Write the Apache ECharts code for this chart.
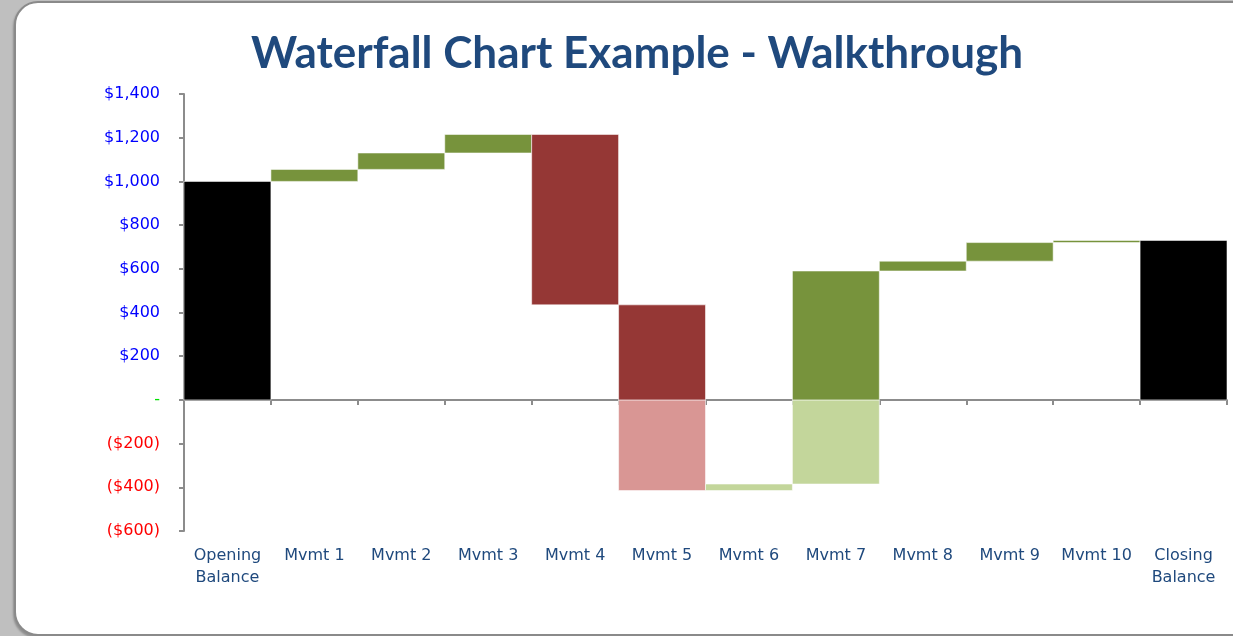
<!DOCTYPE html>
<html>
<head>
<meta charset="utf-8">
<script src="https://cdn.jsdelivr.net/npm/echarts@6/dist/echarts.min.js"></script>
<style>
  html, body { margin: 0; padding: 0; width: 1233px; height: 636px; overflow: hidden; background: #bfbfbf; }
  #panel { position: absolute; left: 14px; top: 1px; width: 1260px; height: 631px; background: #ffffff;
           border: 2px solid #8a8a8a; border-radius: 24px; box-shadow: -1px 2px 2px rgba(0,0,0,0.25); }
  #chart { position: absolute; left: 0; top: 0; width: 1233px; height: 636px; }
</style>
</head>
<body>
<div id="panel"></div>
<div id="chart"></div>
<script>
// ---- data ----
const categories = ['Opening\nBalance', 'Mvmt 1', 'Mvmt 2', 'Mvmt 3', 'Mvmt 4', 'Mvmt 5',
                    'Mvmt 6', 'Mvmt 7', 'Mvmt 8', 'Mvmt 9', 'Mvmt 10', 'Closing\nBalance'];
const openingBalance = 1000;
const movements = [55, 75, 85, -780, -850, 30, 975, 45, 85, 10];
const closingBalance = 730;
const yTicks = { min: -600, max: 1400, interval: 200 };

// ---- colours ----
const colours = {
  total: '#000000',
  upAbove: '#77933C',
  upBelow: '#C3D69B',
  downAbove: '#953735',
  downBelow: '#D99694'
};

// build bar pieces [categoryIndex, low, high, colourKey]
const pieces = [];
pieces.push([0, 0, openingBalance, 'total']);
let running = openingBalance;
movements.forEach(function (m, i) {
  const start = running, end = running + m;
  const low = Math.min(start, end), high = Math.max(start, end);
  const up = m >= 0;
  if (low < 0 && high > 0) {
    pieces.push([i + 1, low, 0, up ? 'upBelow' : 'downBelow']);
    pieces.push([i + 1, 0, high, up ? 'upAbove' : 'downAbove']);
  } else if (high <= 0) {
    pieces.push([i + 1, low, high, up ? 'upBelow' : 'downBelow']);
  } else {
    pieces.push([i + 1, low, high, up ? 'upAbove' : 'downAbove']);
  }
  running = end;
});
pieces.push([categories.length - 1, 0, closingBalance, 'total']);

function fmtY(v) {
  if (v === 0) return '{z|-}';
  const s = '$' + Math.abs(v).toLocaleString('en-US');
  return v > 0 ? '{p|' + s + '}' : '{n|(' + s + ')}';
}

const chart = echarts.init(document.getElementById('chart'));
chart.setOption({
  animation: false,
  backgroundColor: 'transparent',
  title: {
    text: 'Waterfall Chart Example - Walkthrough',
    left: 632,
    textAlign: 'center',
    top: 27,
    textStyle: { fontFamily: 'Lato', fontWeight: 'bold', fontSize: 44, color: '#1F497D' }
  },
  grid: { left: 184, right: 6, top: 94, bottom: 105, containLabel: false },
  xAxis: [
    {
      type: 'category',
      data: categories,
      position: 'bottom',
      axisLine: { show: false, onZero: false },
      axisTick: { show: false },
      axisLabel: {
        interval: 0, margin: 14, color: '#1F497D', fontFamily: 'DejaVu Sans', fontSize: 16, lineHeight: 22
      },
      splitLine: { show: false }
    },
    {
      type: 'category',
      data: categories,
      position: 'bottom',
      axisLine: { show: true, onZero: true, lineStyle: { color: '#8c8c8c', width: 2 } },
      axisTick: { show: true, length: 5, lineStyle: { color: '#8c8c8c', width: 2 } },
      axisLabel: { show: false },
      splitLine: { show: false }
    }
  ],
  yAxis: {
    type: 'value',
    min: yTicks.min, max: yTicks.max, interval: yTicks.interval,
    axisLine: { show: true, onZero: false, lineStyle: { color: '#8c8c8c', width: 2 } },
    axisTick: { show: true, length: 5, lineStyle: { color: '#8c8c8c', width: 2 } },
    splitLine: { show: false },
    axisLabel: {
      margin: 24,
      formatter: fmtY,
      rich: {
        p: { color: '#0000FF', fontFamily: 'DejaVu Sans', fontSize: 16 },
        n: { color: '#FF0000', fontFamily: 'DejaVu Sans', fontSize: 16 },
        z: { color: '#00E000', fontFamily: 'DejaVu Sans', fontSize: 16 }
      }
    }
  },
  series: [{
    type: 'custom',
    xAxisIndex: 0,
    data: pieces,
    encode: { x: 0, y: [1, 2] },
    renderItem: function (params, api) {
      const idx = api.value(0);
      const pTop = api.coord([idx, api.value(2)]);
      const pBot = api.coord([idx, api.value(1)]);
      const w = api.size([1, 0])[0];
      const key = pieces[params.dataIndex][3];
      return {
        type: 'rect',
        shape: { x: pTop[0] - w / 2, y: pTop[1], width: w, height: pBot[1] - pTop[1] },
        style: { fill: colours[key], stroke: 'rgba(255,255,255,0.55)', lineWidth: 1 }
      };
    }
  }]
});
</script>
</body>
</html>
